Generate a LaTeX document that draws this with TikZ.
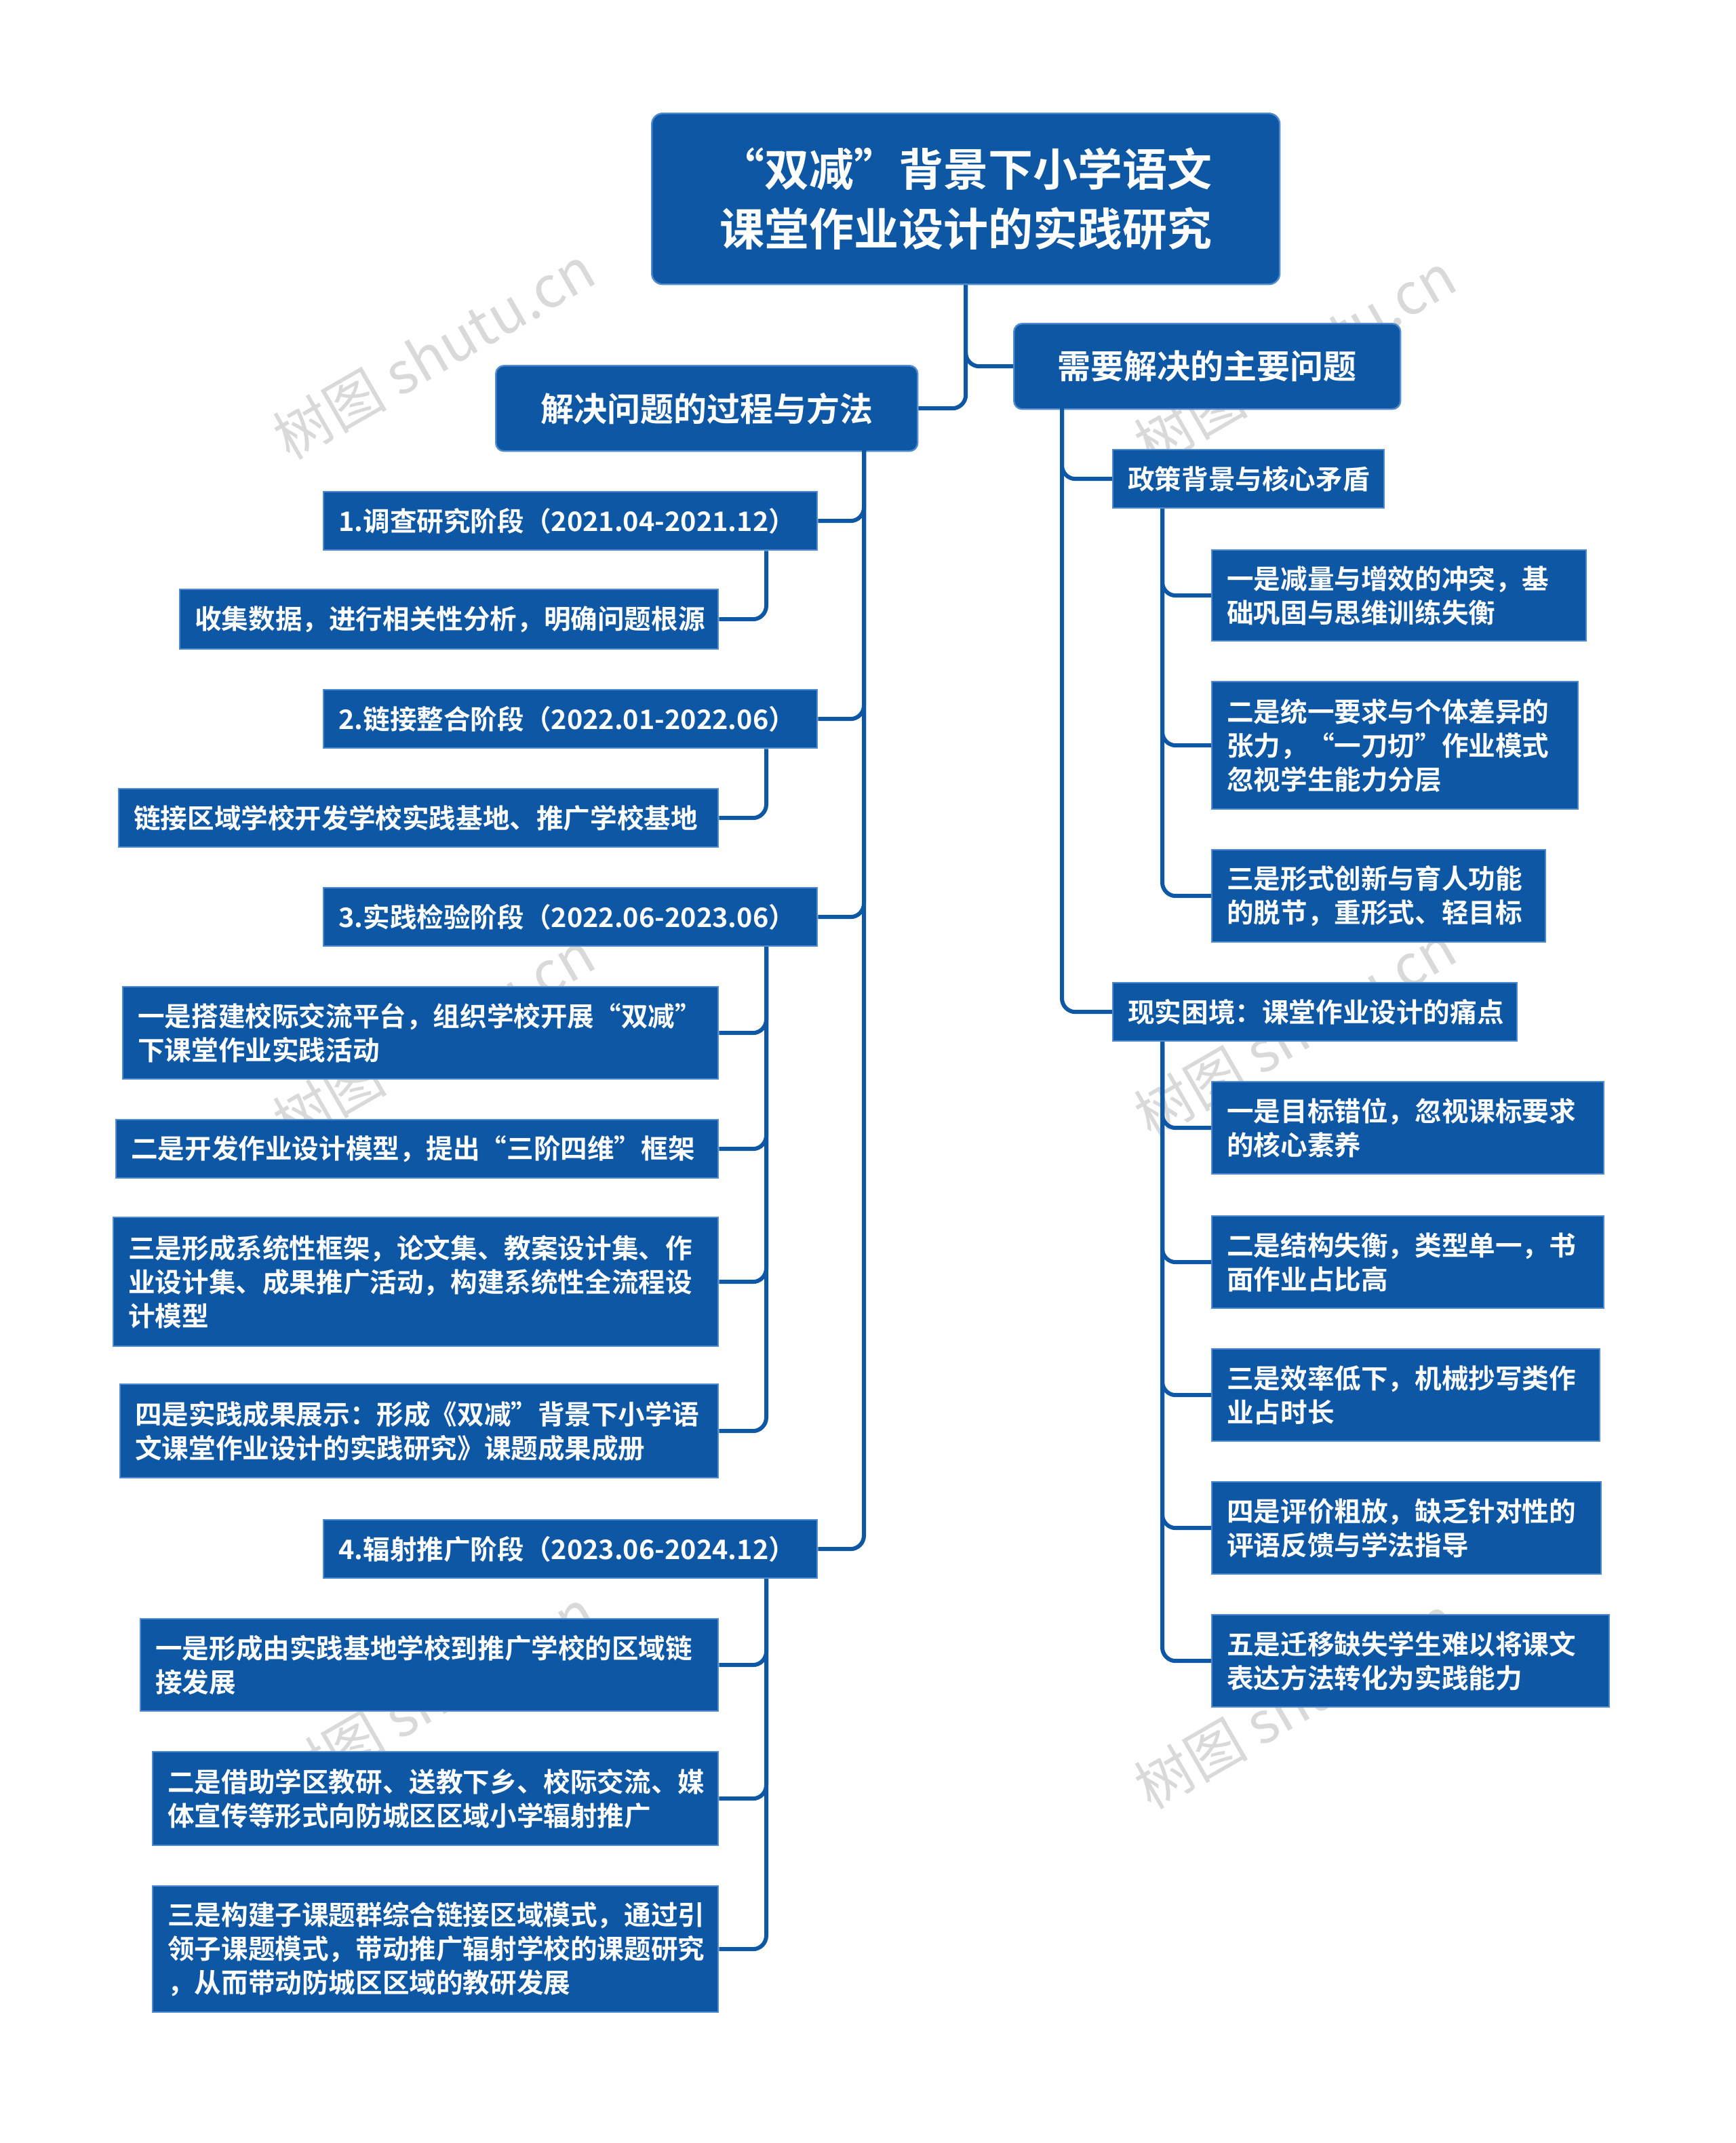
\documentclass[tikz,border=0pt]{standalone}
\usepackage{fontspec}
\newfontfamily\cjk{Noto Sans CJK SC}
\newfontfamily\cjkb{Noto Sans CJK SC Bold}
\begin{document}
\begin{tikzpicture}[x=1pt,y=-1pt]
\definecolor{bl}{RGB}{14,87,164}
\definecolor{bd}{RGB}{80,140,205}
\tikzset{
 box/.style={fill=bl,draw=bd,line width=1.2pt,text=white,inner sep=0pt,anchor=north west,font=\cjkb\fontsize{19.8}{25}\selectfont},
 conn/.style={draw=bl,line width=3pt,rounded corners=10pt},
 wm/.style={text=gray,opacity=0.3,rotate=30,font=\cjk\fontsize{42}{42}\selectfont}
}
\useasboundingbox (0,0) rectangle (1280,1580);
\newcommand\bx[7][left]{%
 \pgfmathsetmacro\bw{#5-#3}\pgfmathsetmacro\bh{#6-#4}\pgfmathsetmacro\tw{#5-#3-22}%
 \node[box,minimum width=\bw pt,minimum height=\bh pt] (#2) at (#3,#4) {\begin{minipage}{\tw pt}\raggedright #7\end{minipage}};}
% watermarks
\foreach \p in {(320,260),(955,265),(320,765),(955,760),(320,1250),(955,1255)}
 \node[wm] at \p {树图 shutu.cn};
% root
\node[box,rounded corners=8pt,minimum width=463pt,minimum height=126pt,font=\cjkb\fontsize{33}{44}\selectfont,align=center] (root) at (480,83) {“双减”背景下小学语文\\课堂作业设计的实践研究};
\node[box,rounded corners=6pt,minimum width=285pt,minimum height=63pt,font=\cjkb\fontsize{24.5}{30}\selectfont] (R) at (747,238) {需要解决的主要问题};
\node[box,rounded corners=6pt,minimum width=311pt,minimum height=63pt,font=\cjkb\fontsize{24.5}{30}\selectfont] (L) at (365,269) {解决问题的过程与方法};
\draw[conn] (root.south) |- (R.west);
\draw[conn] (root.south) |- (L.east);
% left
\bx{s1}{238}{362}{602}{405}{1.调查研究阶段（2021.04-2021.12）}
\bx{s1a}{132}{434}{529}{478}{收集数据，进行相关性分析，明确问题根源}
\bx{s2}{238}{508}{602}{551}{2.链接整合阶段（2022.01-2022.06）}
\bx{s2a}{87}{581}{529}{624}{链接区域学校开发学校实践基地、推广学校基地}
\bx{s3}{238}{654}{602}{697}{3.实践检验阶段（2022.06-2023.06）}
\bx{s3a}{90}{727}{529}{795}{一是搭建校际交流平台，组织学校开展“双减”\\下课堂作业实践活动}
\bx{s3b}{85}{825}{529}{868}{二是开发作业设计模型，提出“三阶四维”框架}
\bx{s3c}{83}{897}{529}{992}{三是形成系统性框架，论文集、教案设计集、作\\业设计集、成果推广活动，构建系统性全流程设\\计模型}
\bx{s3d}{88}{1020}{529}{1089}{四是实践成果展示：形成《双减”背景下小学语\\文课堂作业设计的实践研究》课题成果成册}
\bx{s4}{238}{1120}{602}{1163}{4.辐射推广阶段（2023.06-2024.12）}
\bx{s4a}{103}{1193}{529}{1261}{一是形成由实践基地学校到推广学校的区域链\\接发展}
\bx{s4b}{112}{1291}{529}{1360}{二是借助学区教研、送教下乡、校际交流、媒\\体宣传等形式向防城区区域小学辐射推广}
\bx{s4c}{112}{1390}{529}{1483}{三是构建子课题群综合链接区域模式，通过引\\领子课题模式，带动推广辐射学校的课题研究\\，从而带动防城区区域的教研发展}
\coordinate (Lx) at (637,332);
\foreach \n in {s1,s2,s3,s4} \draw[conn] (Lx) |- (\n.east);
\draw[conn] (s1.south -| 565,0) |- (s1a.east);
\draw[conn] (s2.south -| 565,0) |- (s2a.east);
\foreach \n in {s3a,s3b,s3c,s3d} \draw[conn] (s3.south -| 565,0) |- (\n.east);
\foreach \n in {s4a,s4b,s4c} \draw[conn] (s4.south -| 565,0) |- (\n.east);
% right
\bx{p1}{820}{331}{1020}{374}{政策背景与核心矛盾}
\bx{p1a}{893}{405}{1169}{472}{一是减量与增效的冲突，基\\础巩固与思维训练失衡}
\bx{p1b}{893}{502}{1163}{596}{二是统一要求与个体差异的\\张力，“一刀切”作业模式\\忽视学生能力分层}
\bx{p1c}{893}{626}{1139}{694}{三是形式创新与育人功能\\的脱节，重形式、轻目标}
\bx{p2}{820}{724}{1118}{767}{现实困境：课堂作业设计的痛点}
\bx{p2a}{893}{797}{1182}{865}{一是目标错位，忽视课标要求\\的核心素养}
\bx{p2b}{893}{896}{1182}{964}{二是结构失衡，类型单一，书\\面作业占比高}
\bx{p2c}{893}{994}{1179}{1062}{三是效率低下，机械抄写类作\\业占时长}
\bx{p2d}{893}{1092}{1180}{1160}{四是评价粗放，缺乏针对性的\\评语反馈与学法指导}
\bx{p2e}{893}{1190}{1186}{1258}{五是迁移缺失学生难以将课文\\表达方法转化为实践能力}
\coordinate (Rx) at (783,301);
\foreach \n in {p1,p2} \draw[conn] (Rx) |- (\n.west);
\foreach \n in {p1a,p1b,p1c} \draw[conn] (p1.south -| 857,0) |- (\n.west);
\foreach \n in {p2a,p2b,p2c,p2d,p2e} \draw[conn] (p2.south -| 857,0) |- (\n.west);
\end{tikzpicture}
\end{document}
